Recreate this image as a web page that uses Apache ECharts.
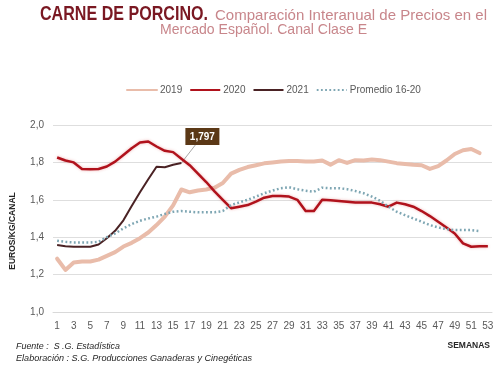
<!DOCTYPE html>
<html>
<head>
<meta charset="utf-8">
<script src="https://cdn.jsdelivr.net/npm/echarts@6/dist/echarts.min.js"></script>
<style>html,body{margin:0;padding:0;background:#fff}#c{width:500px;height:369px}</style>
</head>
<body>
<div id="c"></div>
<script>
const weeks = ['1','2','3','4','5','6','7','8','9','10','11','12','13','14','15','16','17','18','19','20','21','22','23','24','25','26','27','28','29','30','31','32','33','34','35','36','37','38','39','40','41','42','43','44','45','46','47','48','49','50','51','52','53'];
const seriesNames = ['2019','2020','2021','Promedio 16-20'];
const s2019 = [1.285,1.225,1.265,1.27,1.27,1.28,1.30,1.32,1.35,1.37,1.395,1.425,1.465,1.51,1.57,1.655,1.64,1.65,1.655,1.665,1.69,1.74,1.76,1.775,1.785,1.795,1.80,1.805,1.807,1.807,1.805,1.805,1.81,1.788,1.812,1.797,1.812,1.81,1.815,1.812,1.804,1.796,1.792,1.787,1.785,1.765,1.78,1.81,1.845,1.865,1.872,1.85,null];
const s2020 = [1.826,1.81,1.80,1.765,1.763,1.765,1.778,1.804,1.84,1.876,1.906,1.912,1.885,1.862,1.855,1.82,1.785,1.74,1.695,1.645,1.60,1.555,1.563,1.572,1.59,1.611,1.62,1.62,1.617,1.60,1.54,1.54,1.60,1.597,1.594,1.59,1.585,1.585,1.585,1.576,1.563,1.585,1.576,1.563,1.54,1.513,1.483,1.452,1.42,1.367,1.349,1.352,1.352];
const s2021 = [1.358,1.352,1.349,1.349,1.349,1.361,1.394,1.434,1.49,1.567,1.64,1.71,1.777,1.774,1.787,1.797];
const sProm = [1.381,1.375,1.372,1.372,1.372,1.375,1.40,1.42,1.447,1.47,1.488,1.50,1.51,1.524,1.536,1.54,1.536,1.533,1.533,1.533,1.54,1.572,1.586,1.60,1.617,1.635,1.649,1.662,1.667,1.656,1.649,1.643,1.665,1.662,1.662,1.657,1.647,1.635,1.617,1.595,1.563,1.536,1.518,1.50,1.483,1.465,1.452,1.443,1.438,1.438,1.438,1.433,null];
const annotWeek = '16';
const annotValue = 1.797;

const fam = '"Liberation Sans", sans-serif';
const mctx = document.createElement('canvas').getContext('2d');
function fitScale(text, font, target){ mctx.font = font; const w = mctx.measureText(text).width; return w > 0 ? target / w : 1; }
function fitText(text, font, fill, x, y, target){
  return { type:'text', x:x, y:y, scaleX: fitScale(text, font, target), silent:true,
    style:{ text:text, font:font, fill:fill, x:0, y:0, textAlign:'left', textVerticalAlign:'middle', align:'left', verticalAlign:'middle' } };
}
const fTitle = 'bold 20px ' + fam;
const fSub = '15px ' + fam;
const fFoot = 'italic 9px ' + fam;

const chart = echarts.init(document.getElementById('c'), null, {renderer:'canvas'});
const lbl = { color:'#595959', fontSize:10, fontFamily:'Liberation Sans' };
const option = {
  animation:false,
  backgroundColor:'#ffffff',
  grid:{ left:53, right:8, top:125, bottom:57, containLabel:false },
  legend:{ left:121, top:80, itemWidth:30, itemHeight:12, itemGap:7,
    data:seriesNames,
    itemStyle:{ color:'rgba(0,0,0,0)', borderWidth:0, opacity:0 },
    textStyle:{ color:'#595959', fontSize:10, fontFamily:'Liberation Sans', padding:[0,0,0,-2] } },
  xAxis:{ type:'category', data:weeks, boundaryGap:true,
    axisTick:{show:false}, axisLine:{show:true, lineStyle:{color:'#d9d9d9'}},
    axisLabel:Object.assign({ interval:1, margin:9 }, lbl) },
  yAxis:{ type:'value', min:1, max:2, interval:0.2,
    axisLine:{show:false}, axisTick:{show:false},
    splitLine:{ lineStyle:{ color:'#dedede', width:1 } },
    axisLabel:Object.assign({ margin:9, formatter:v => v.toFixed(1).replace('.', ',') }, lbl) },
  series:[
    { name:seriesNames[0], type:'line', data:s2019, symbol:'none', lineStyle:{ color:'#e9bcaa', width:4, join:'round', cap:'round' }, itemStyle:{color:'#e9bcaa'} },
    { name:seriesNames[1], type:'line', data:s2020, symbol:'none', lineStyle:{ color:'#b0121c', width:2.5, join:'round', shadowColor:'rgba(220,90,90,0.45)', shadowBlur:3 }, itemStyle:{color:'#b0121c'} },
    { name:seriesNames[2], type:'line', data:s2021, symbol:'none', lineStyle:{ color:'#4a2224', width:2, join:'round' }, itemStyle:{color:'#4a2224'} },
    { name:seriesNames[3], type:'line', data:sProm, symbol:'none', lineStyle:{ color:'#7ea6b3', width:2.5, type:[1.8,2.4], cap:'butt' }, itemStyle:{color:'#7ea6b3'} }
  ]
};
chart.setOption(option);

const pt = chart.convertToPixel({xAxisIndex:0, yAxisIndex:0}, [annotWeek, annotValue]);
const boxW = 34, boxH = 17;
const bx = pt[0] + 4, by = pt[1] - 35;
chart.setOption({
  graphic:[
    fitText('CARNE DE PORCINO.', fTitle, '#7a1822', 40, 14, 168),
    fitText('Comparación Interanual de Precios en el', fSub, '#c8868b', 215, 15.5, 272),
    fitText('Mercado Español. Canal Clase E', fSub, '#c8868b', 160, 30, 207),
    { type:'text', x:13, y:231, rotation:Math.PI/2, silent:true,
      style:{ text:'EUROS/KG/CANAL', font:'bold 8.5px "Liberation Sans"', fill:'#262626', textAlign:'center', textVerticalAlign:'middle', align:'center', verticalAlign:'middle' } },
    { type:'text', x:490, y:346, silent:true,
      style:{ text:'SEMANAS', font:'bold 8.5px "Liberation Sans"', fill:'#262626', textAlign:'right', textVerticalAlign:'middle', align:'right', verticalAlign:'middle' } },
    fitText('Fuente :  S .G. Estadística', fFoot, '#262626', 16, 346, 104),
    fitText('Elaboración : S.G. Producciones Ganaderas y Cinegéticas', fFoot, '#262626', 16, 358, 236),
    { type:'line', silent:true, shape:{ x1:pt[0], y1:pt[1], x2:bx + 10, y2:by + boxH }, style:{ stroke:'#a8a8a8', lineWidth:1 } },
    { type:'rect', silent:true, shape:{ x:bx, y:by, width:boxW, height:boxH }, style:{ fill:'#5b3816' } },
    { type:'text', silent:true, x:bx + boxW/2, y:by + boxH/2 + 0.5,
      style:{ text:'1,797', font:'bold 10px "Liberation Sans"', fill:'#ffffff', textAlign:'center', textVerticalAlign:'middle', align:'center', verticalAlign:'middle' } }
  ]
});
</script>
</body>
</html>
